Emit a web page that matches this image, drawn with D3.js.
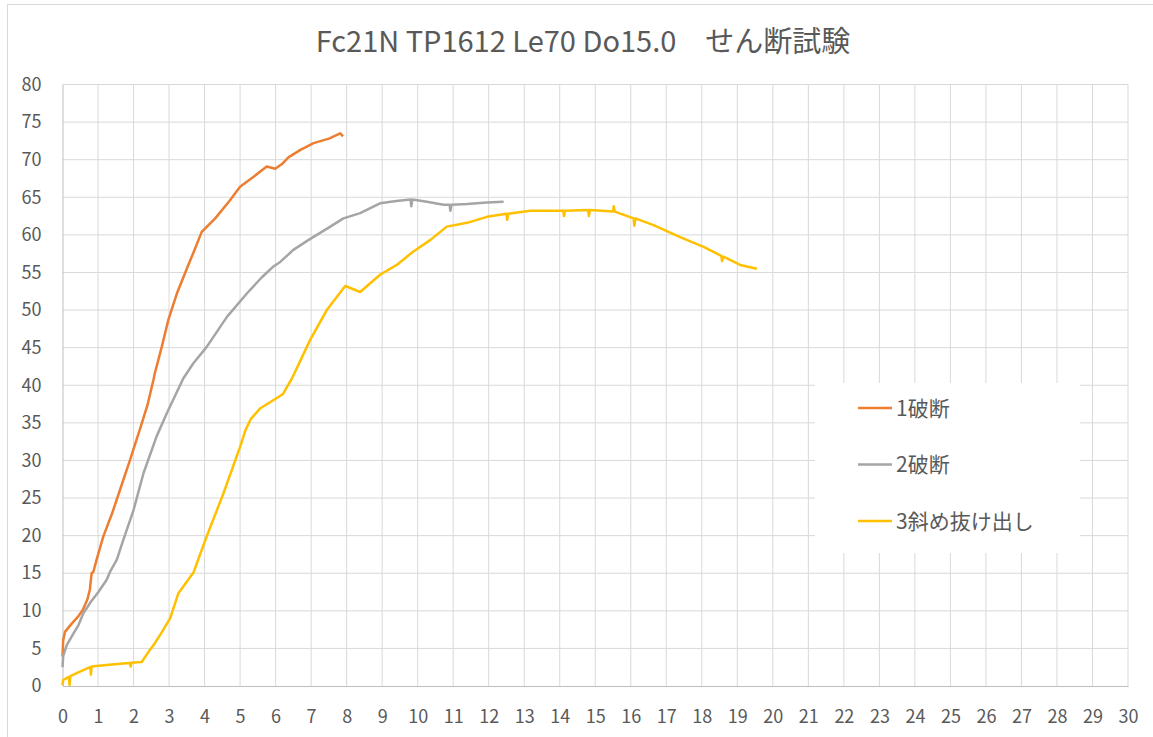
<!DOCTYPE html>
<html lang="ja">
<head>
<meta charset="utf-8">
<title>せん断試験</title>
<script src="https://d3js.org/d3.v7.min.js"></script>
<style>
    body { margin: 0; background: #fff; }
    text { font-family: "Noto Sans CJK JP", "Noto Sans", sans-serif; fill: #595959; }
    .grid line { stroke: #d9d9d9; stroke-width: 1; }
</style>
</head>
<body>
<div id="chart"></div>
<script>
// data: [displacement, load]
const s1 = [[0,3.9],[0.02,6.1],[0.07,7.2],[0.26,8.3],[0.45,9.3],[0.57,10.1],[0.7,11.5],[0.77,12.8],[0.82,15],[0.87,15.2],[0.96,16.8],[1.15,19.9],[1.4,23],[1.62,26.1],[1.9,30.05],[2.23,34.9],[2.4,37.5],[2.56,40.7],[2.6,41.6],[2.8,45.2],[2.98,48.7],[3.22,52.2],[3.5,55.5],[3.7,57.8],[3.92,60.4],[4.3,62.2],[4.7,64.5],[5.0,66.4],[5.4,67.8],[5.75,69.1],[5.99,68.8],[6.2,69.5],[6.36,70.3],[6.7,71.3],[7.07,72.2],[7.5,72.8],[7.82,73.5],[7.9,73.1]];
const s2 = [[0,2.5],[0.02,4],[0.12,5.45],[0.31,7.0],[0.45,8.1],[0.59,9.7],[0.8,11.2],[1.01,12.5],[1.24,14.1],[1.34,15.2],[1.53,16.8],[1.71,19.4],[2.0,23.4],[2.28,28.3],[2.65,33.2],[2.94,36.3],[3.4,40.9],[3.68,42.9],[4.06,45.1],[4.63,49.1],[5.19,52.2],[5.6,54.3],[5.94,55.8],[6.13,56.4],[6.5,58],[6.92,59.3],[7.54,61.1],[7.91,62.2],[8.38,62.9],[8.94,64.2],[9.4,64.5],[9.8,64.7],[9.82,63.8],[9.85,64.7],[10.26,64.4],[10.73,64.0],[10.9,64.0],[10.92,63.2],[10.95,64.0],[11.39,64.1],[11.95,64.3],[12.42,64.4]];
const s3 = [[0,0.1],[0.02,0.8],[0.18,1.2],[0.2,0.1],[0.22,1.3],[0.49,1.9],[0.78,2.5],[0.8,1.5],[0.82,2.6],[1.24,2.8],[1.71,3.0],[1.9,3.05],[1.92,2.6],[1.94,3.1],[2.23,3.2],[2.46,4.8],[2.6,5.7],[2.75,6.8],[3.03,9.0],[3.26,12.3],[3.64,14.8],[3.68,15.0],[4.06,19.9],[4.53,25.6],[5.0,31.8],[5.15,34.0],[5.3,35.5],[5.56,36.9],[5.9,37.9],[6.2,38.8],[6.46,40.9],[6.97,46.0],[7.44,50],[7.96,53.2],[8.38,52.4],[8.94,54.7],[9.41,56.0],[9.88,57.8],[10.35,59.3],[10.82,61.1],[11.39,61.6],[11.95,62.4],[12.5,62.8],[12.52,62.0],[12.55,62.8],[13.17,63.2],[13.92,63.2],[14.1,63.2],[14.12,62.5],[14.15,63.2],[14.8,63.3],[14.82,62.5],[14.85,63.3],[15.5,63.1],[15.52,63.8],[15.55,63.1],[16.08,62.2],[16.1,61.2],[16.13,62.2],[16.64,61.3],[17.39,59.7],[18.05,58.4],[18.55,57.2],[18.57,56.5],[18.61,57.1],[19.08,56.0],[19.55,55.5]];

const seriesNames = ["1破断", "2破断", "3斜め抜け出し"];
const seriesColors = ["#ED7D31", "#A5A5A5", "#FFC000"];
const xTicks = d3.range(0, 31, 1);
const yTicks = d3.range(0, 81, 5);

const w = 1153, h = 737;
const margin = {left: 62.5, right: 25, top: 84.5, bottom: 51};

const svg = d3.select("#chart").append("svg")
    .attr("width", w).attr("height", h);

// chart frame
svg.append("rect")
    .attr("x", 7.5).attr("y", 4.5)
    .attr("width", w + 20).attr("height", h + 20)
    .attr("fill", "none").attr("stroke", "#d9d9d9");

const x = d3.scaleLinear().domain([0, 30]).range([margin.left, w - margin.right]);
const y = d3.scaleLinear().domain([0, 80]).range([h - margin.bottom, margin.top]);

// grid
svg.append("g").attr("class", "grid")
    .selectAll("line.v").data(xTicks.slice(1)).enter().append("line")
    .attr("x1", d => x(d)).attr("x2", d => x(d))
    .attr("y1", y(0)).attr("y2", y(80));
svg.append("g").attr("class", "grid")
    .selectAll("line.h").data(yTicks.slice(1)).enter().append("line")
    .attr("x1", x(0)).attr("x2", x(30))
    .attr("y1", d => y(d)).attr("y2", d => y(d));

// axes
const xAxis = d3.axisBottom(x).tickValues(xTicks).tickSize(0).tickPadding(24);
const yAxis = d3.axisLeft(y).tickValues(yTicks).tickSize(0).tickPadding(21);

const gx = svg.append("g").attr("transform", `translate(0,${y(0)})`).call(xAxis);
gx.select(".domain").attr("stroke", "#bfbfbf");
gx.selectAll("text").attr("font-size", 18).attr("fill", "#595959");

const gy = svg.append("g").attr("transform", `translate(${x(0)},0)`).call(yAxis);
gy.select(".domain").attr("stroke", "#bfbfbf");
gy.selectAll("text").attr("font-size", 18).attr("fill", "#595959");

// series
const line = d3.line().x(d => x(d[0])).y(d => y(d[1]));
[s1, s2, s3].forEach((s, i) => {
    svg.append("path")
        .datum(s)
        .attr("d", line)
        .attr("fill", "none")
        .attr("stroke", seriesColors[i])
        .attr("stroke-width", 2.5)
        .attr("stroke-linejoin", "round");
});

// title
svg.append("text")
    .attr("x", 583).attr("y", 52)
    .attr("text-anchor", "middle")
    .attr("font-size", 29)
    .text("Fc21N TP1612 Le70 Do15.0\u3000せん断試験");

// legend
const legend = svg.append("g");
legend.append("rect")
    .attr("x", 815).attr("y", 383)
    .attr("width", 265).attr("height", 170)
    .attr("fill", "#fff");
seriesNames.forEach((name, i) => {
    const ly = 408 + i * 56.5;
    legend.append("line")
        .attr("x1", 858).attr("x2", 892)
        .attr("y1", ly).attr("y2", ly)
        .attr("stroke", seriesColors[i]).attr("stroke-width", 2.5);
    legend.append("text")
        .attr("x", 896).attr("y", ly + 7.5)
        .attr("font-size", 21)
        .text(name);
});
</script>
</body>
</html>
